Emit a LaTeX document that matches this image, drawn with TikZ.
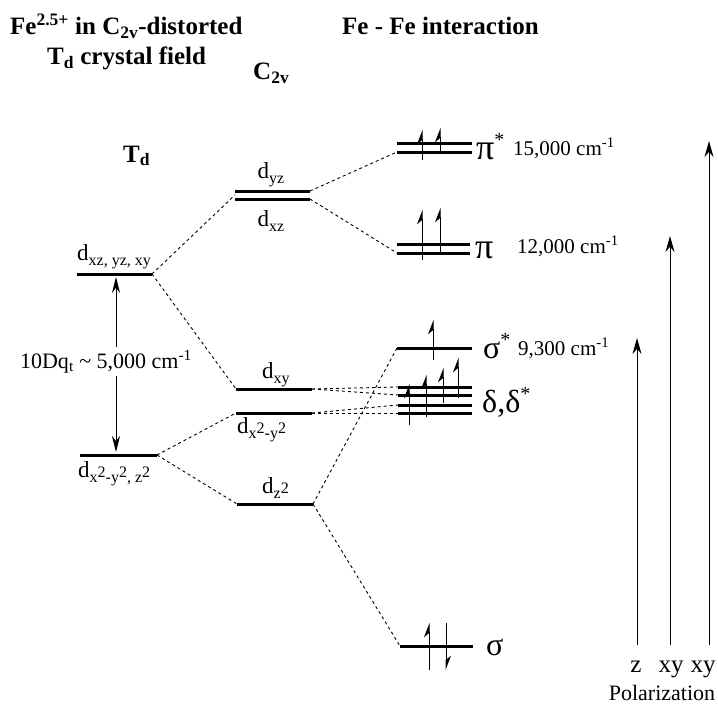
\documentclass[tikz,border=0pt]{standalone}
\usepackage{fontspec}
\setmainfont{Liberation Serif}
\usetikzlibrary{arrows.meta}
\newcommand{\lsub}[1]{\raisebox{-5pt}{\fontsize{16}{16}\selectfont #1}}
\newcommand{\lup}[1]{\raisebox{5pt}{#1}}
\begin{document}
\begin{tikzpicture}[x=1pt,y=-1pt,
  level/.style={line width=3pt},
  conn/.style={line width=0.9pt, dash pattern=on 3pt off 3pt},
  elec/.style={line width=1pt,-{Stealth[harpoon,length=13pt,width=10pt]}},
  pol/.style={line width=1pt,-{Stealth[length=16pt,width=9pt]}},
  dq/.style={line width=1pt,{Stealth[length=16pt,width=8pt]}-{Stealth[length=16pt,width=8pt]}},
  lab/.style={inner sep=0pt, anchor=base west, font=\fontsize{23}{25}\selectfont},
  labc/.style={inner sep=0pt, anchor=base, font=\fontsize{23}{25}\selectfont},
  ttl/.style={inner sep=0pt, anchor=base west, font=\fontsize{25}{27}\selectfont\bfseries},
  grk/.style={inner sep=0pt, anchor=base west, font=\fontsize{32}{34}\selectfont},
  wn/.style={inner sep=0pt, anchor=base west, font=\fontsize{21}{23}\selectfont},
  pl/.style={inner sep=0pt, anchor=base, font=\fontsize{25}{27}\selectfont}]
\useasboundingbox (0,0) rectangle (718,709);

% titles
\node[ttl] (t1) at (10,35) {Fe\textsuperscript{2.5+} in C\textsubscript{2v}-distorted};
\node[ttl] (t2) at (47,65) {T\textsubscript{d} crystal field};
\node[ttl] (t3) at (253,80) {C\textsubscript{2v}};
\node[ttl] (t4) at (342,35) {Fe - Fe interaction};
\node[ttl] (t5) at (123,162) {T\textsubscript{d}};

% Td levels
\coordinate (tuL) at (77,274); \coordinate (tuR) at (152,274);
\coordinate (tlL) at (80,455); \coordinate (tlR) at (157,455);
\draw[level] (tuL) -- (tuR);
\draw[level] (tlL) -- (tlR);
\node[lab] (ltu) at (77,260) {d\lsub{xz, yz, xy}};
\node[lab] (ltl) at (78,477) {d\lsub{x\lup{2}-y\lup{2}, z\lup{2}}};
\coordinate (dqT) at (116,277); \coordinate (dqB) at (116,452);
\draw[dq] (dqB) -- (dqT);
\node[labc, fill=white, inner ysep=3pt, font=\fontsize{22}{24}\selectfont] (dq) at (106,368) {10Dq\textsubscript{t} \char"7E{} 5,000 cm\textsuperscript{-1}};

% C2v levels
\coordinate (yzL) at (235,191); \coordinate (yzR) at (310,191);
\coordinate (xzL) at (235,199); \coordinate (xzR) at (310,199);
\coordinate (xyL) at (236,389); \coordinate (xyR) at (312,389);
\coordinate (x2L) at (236,413); \coordinate (x2R) at (312,413);
\coordinate (z2L) at (237,504); \coordinate (z2R) at (313,504);
\coordinate (yzM) at (235,195);
\draw[level] (yzL) -- (yzR);
\draw[level] (xzL) -- (xzR);
\draw[level] (xyL) -- (xyR);
\draw[level] (x2L) -- (x2R);
\draw[level] (z2L) -- (z2R);
\node[labc] (lyz) at (271,178) {d\lsub{yz}};
\node[labc] (lxz) at (271,226) {d\lsub{xz}};
\node[lab] (lxy) at (262,378) {d\lsub{xy}};
\node[lab] (lx2) at (237,433) {d\lsub{x\lup{2}-y\lup{2}}};
\node[lab] (lz2) at (262,493) {d\lsub{z\lup{2}}};

% Fe-Fe levels
\coordinate (ps1L) at (397,143); \coordinate (ps1R) at (472,143);
\coordinate (ps2L) at (397,152); \coordinate (ps2R) at (472,152);
\coordinate (p1L) at (397,244); \coordinate (p1R) at (470,244);
\coordinate (p2L) at (397,253); \coordinate (p2R) at (470,253);
\coordinate (ssL) at (397,348); \coordinate (ssR) at (472,348);
\coordinate (d1L) at (398,387); \coordinate (d1R) at (472,387);
\coordinate (d2L) at (398,395); \coordinate (d2R) at (472,395);
\coordinate (d3L) at (398,405); \coordinate (d3R) at (472,405);
\coordinate (d4L) at (398,413); \coordinate (d4R) at (472,413);
\coordinate (sL) at (400,646); \coordinate (sR) at (473,646);
\foreach \a in {ps1,ps2,p1,p2,ss,d1,d2,d3,d4,s} \draw[level] (\a L) -- (\a R);

% connectors
\draw[conn] (tuR) -- (yzM);
\draw[conn] (tuR) -- (xyL);
\draw[conn] (tlR) -- (x2L);
\draw[conn] (tlR) -- (z2L);
\draw[conn] (yzR) -- (ps2L);
\draw[conn] (xzR) -- (p2L);
\draw[conn] (xyR) -- (d1L);
\draw[conn] (xyR) -- (d2L);
\draw[conn] (x2R) -- (d3L);
\draw[conn] (x2R) -- (d4L);
\draw[conn] (z2R) -- (ssL);
\draw[conn] (z2R) -- (sL);

% electrons
\coordinate (e1a) at (422,160); \coordinate (e1b) at (422,130);
\coordinate (e2a) at (440,152); \coordinate (e2b) at (440,128);
\coordinate (e3a) at (422,260); \coordinate (e3b) at (422,210);
\coordinate (e4a) at (440,253); \coordinate (e4b) at (440,208);
\coordinate (e5a) at (433,360); \coordinate (e5b) at (433,320);
\coordinate (e6a) at (409,425); \coordinate (e6b) at (409,384);
\coordinate (e7a) at (426,417); \coordinate (e7b) at (426,375);
\coordinate (e8a) at (443,403); \coordinate (e8b) at (443,368);
\coordinate (e9a) at (458,398); \coordinate (e9b) at (458,358);
\coordinate (e10a) at (429,670); \coordinate (e10b) at (429,623);
\coordinate (e11a) at (446,623); \coordinate (e11b) at (446,670);
\foreach \i in {1,...,11} \draw[elec] (e\i a) -- (e\i b);

% level labels
\node[grk, font=\fontsize{36}{38}\selectfont] (lps) at (476,159) {π\raisebox{13pt}{\fontsize{20}{20}\selectfont *}};
\node[wn] (wps) at (513,155) {15,000 cm\textsuperscript{-1}};
\node[grk, font=\fontsize{36}{38}\selectfont] (lp) at (475,258) {π};
\node[wn] (wp) at (517,253) {12,000 cm\textsuperscript{-1}};
\node[grk] (lss) at (483,358) {σ\raisebox{12pt}{\fontsize{20}{20}\selectfont *}};
\node[wn] (wss) at (518,355) {9,300 cm\textsuperscript{-1}};
\node[grk] (ld) at (482,412) {δ,δ\raisebox{12pt}{\fontsize{20}{20}\selectfont *}};
\node[grk] (ls) at (486,655) {σ};

% polarization
\coordinate (z0) at (637,645); \coordinate (z1) at (637,338);
\coordinate (a0) at (670,645); \coordinate (a1) at (670,236);
\coordinate (b0) at (709,645); \coordinate (b1) at (709,141);
\draw[pol] (z0) -- (z1);
\draw[pol] (a0) -- (a1);
\draw[pol] (b0) -- (b1);
\node[pl] (pz) at (636,672) {z};
\node[pl] (pa) at (671,672) {xy};
\node[pl] (pb) at (703,672) {xy};
\node[pl, font=\fontsize{22}{24}\selectfont] (pp) at (662,700) {Polarization};
\end{tikzpicture}
\end{document}
